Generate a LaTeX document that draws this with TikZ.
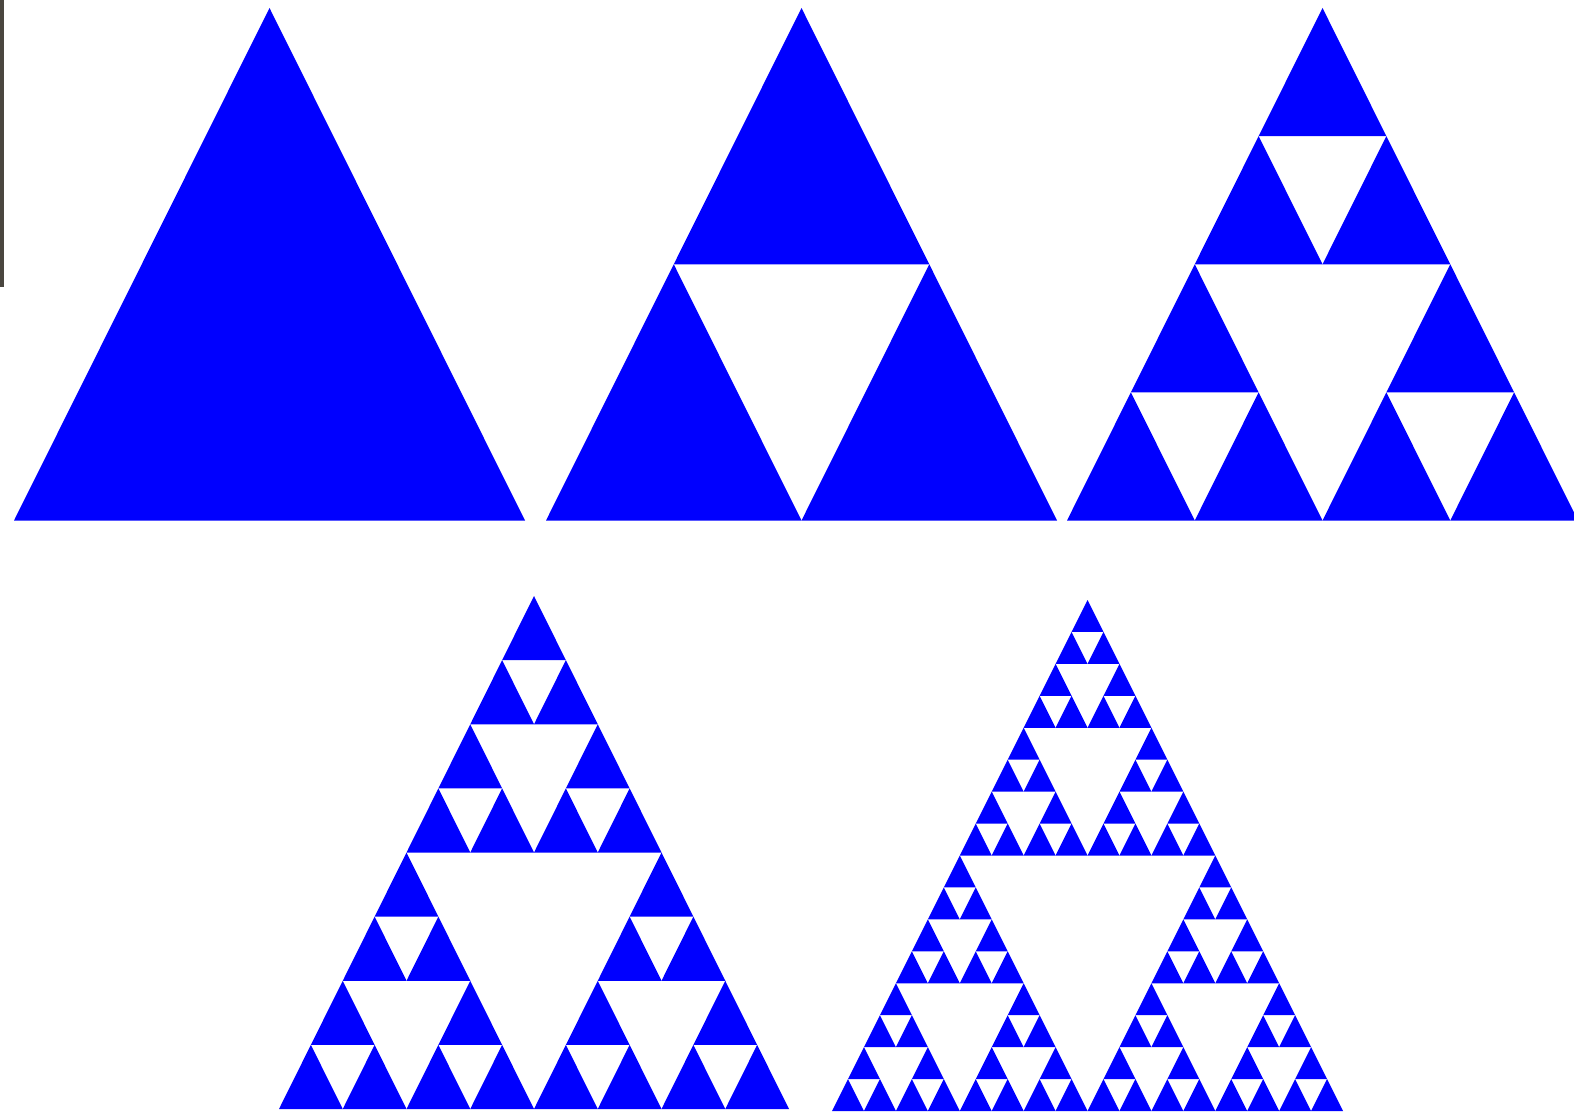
\documentclass[tikz,border=0pt]{standalone}
\usetikzlibrary{calc}
\definecolor{barcol}{RGB}{74,70,63}
\tikzset{tri/.style={fill=blue}}
\newcommand\sierp[5]{%
 \ifnum#5=0\relax
  \fill[tri] (#1,#2) -- (#1+#3,#2) -- (#1+#3/2,#2-#4) -- cycle;
 \else
  \begingroup
  \pgfmathsetmacro\shw{#3/2}\pgfmathsetmacro\shh{#4/2}%
  \pgfmathsetmacro\sxa{#1+\shw}\pgfmathsetmacro\sxb{#1+\shw/2}\pgfmathsetmacro\syb{#2-\shh}%
  \pgfmathtruncatemacro\sdd{#5-1}%
  \edef\snext{\noexpand\sierp{#1}{#2}{\shw}{\shh}{\sdd}%
   \noexpand\sierp{\sxa}{#2}{\shw}{\shh}{\sdd}%
   \noexpand\sierp{\sxb}{\syb}{\shw}{\shh}{\sdd}}%
  \snext
  \endgroup
 \fi}
\begin{document}
\begin{tikzpicture}[x=1pt,y=-1pt]
\path[use as bounding box] (0,0) rectangle (1574,1113);
\clip (0,0) rectangle (1574,1113);
\fill[white] (0,0) rectangle (1574,1113);
\fill[barcol] (0,0) rectangle (4,287);
\sierp{14}{520.5}{511}{512.5}{0}
\sierp{546}{520.5}{511}{512.5}{1}
\sierp{1067}{520.5}{511}{512.5}{2}
\sierp{279}{1109}{510}{513}{3}
\sierp{832}{1111}{511}{511}{4}
\end{tikzpicture}
\end{document}
